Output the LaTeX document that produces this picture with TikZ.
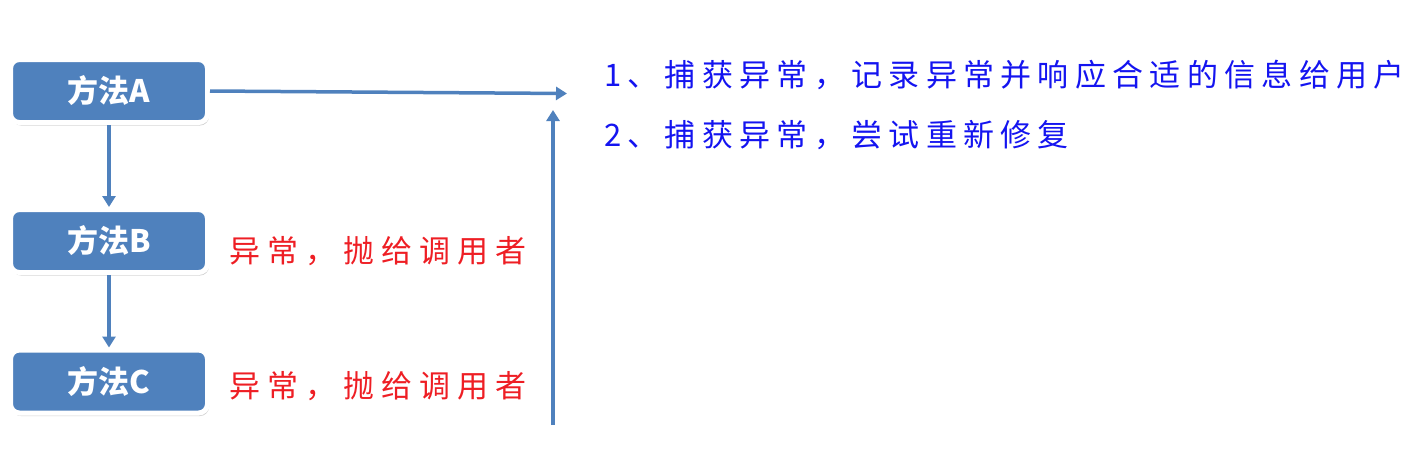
\documentclass[tikz,border=0pt]{standalone}
\usepackage{fontspec}
\newfontfamily\cjk{Noto Sans CJK SC}
\usetikzlibrary{arrows.meta,shadows}
\definecolor{boxblue}{RGB}{79,129,189}
\definecolor{txtblue}{RGB}{20,20,240}
\definecolor{txtred}{RGB}{238,30,36}
\ExplSyntaxOn
\NewDocumentCommand\spreadtext{O{9pt} m}{\tl_map_inline:nn {#2}{##1\hspace{#1}}}
\ExplSyntaxOff
\tikzset{
  method/.style={fill=boxblue, draw=white, line width=5pt, rounded corners=9pt,
    minimum width=197pt, minimum height=63pt, inner sep=0pt,
    text=white, font=\cjk\bfseries\fontsize{31pt}{33pt}\selectfont,
    drop shadow={shadow xshift=1.5pt, shadow yshift=-3pt, opacity=0.18, fill=black}},
  arr/.style={draw=boxblue, line width=3.5pt, -{Triangle[length=11pt,width=13pt]}},
  note/.style={anchor=west, inner sep=0pt, font=\cjk\fontsize{31pt}{33pt}\selectfont},
}
\begin{document}
\begin{tikzpicture}[x=1pt,y=-1pt]
\useasboundingbox (0,0) rectangle (1419,451);
\node[method] (A) at (109,91) {方法A};
\node[method] (B) at (109,241) {方法B};
\node[method] (C) at (109,381.5) {方法C};
\coordinate (hend) at (567,93.5);
\coordinate (vbot) at (553,425);
\coordinate (vtop) at (553,110);
\draw[arr] (A) -- (B);
\draw[arr] (B) -- (C);
\draw[arr] (A.east) -- (hend);
\draw[arr] (vbot) -- (vtop);
\node[note, text=txtblue] (t1) at (604,75) {\spreadtext[6.3pt]{1、捕获异常，记录异常并响应合适的信息给用户}};
\node[note, text=txtblue] (t2) at (604,135) {\spreadtext[6.3pt]{2、捕获异常，尝试重新修复}};
\node[note, text=txtred] (r1) at (229,251) {\spreadtext[7pt]{异常，抛给调用者}};
\node[note, text=txtred] (r2) at (229,386) {\spreadtext[7pt]{异常，抛给调用者}};
\end{tikzpicture}
\end{document}
